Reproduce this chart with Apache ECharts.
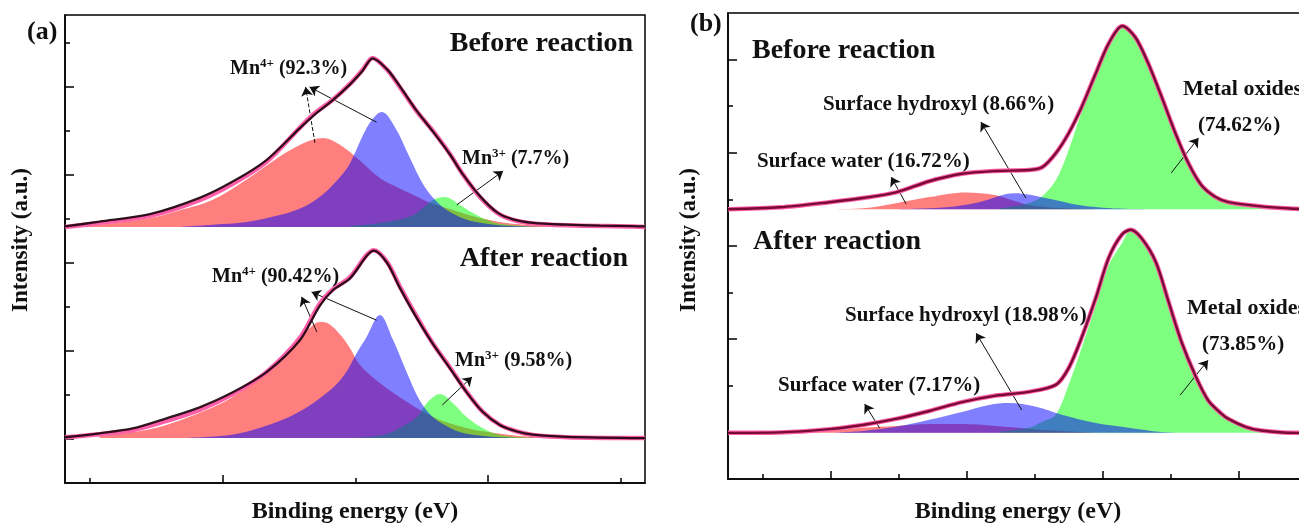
<!DOCTYPE html>
<html><head><meta charset="utf-8">
<script src="https://cdn.jsdelivr.net/npm/echarts@6/dist/echarts.min.js"></script>
<style>html,body{margin:0;padding:0;background:#fff;overflow:hidden}#c{width:1320px;height:524px}</style>
</head><body><div id="c"></div>
<script>
// ---------- Panel (a): Mn 2p, binding energy (eV) vs intensity above each spectrum's baseline ----------
const aBeforeFit = [[647.38,0],[646.86,0.09],[646.10,0.25],[645.35,0.61],[644.85,0.98],[644.34,1.48],[643.84,2.25],[643.64,2.55],[643.34,2.89],[643.08,3.25],[642.89,3.57],[642.74,3.84],[642.52,3.57],[642.33,3.18],[642.07,2.62],[641.83,2.18],[641.57,1.65],[641.38,1.2],[641.12,0.68],[640.86,0.32],[640.62,0.16],[640.32,0.08],[639.81,0.04],[638.81,0.01],[638.63,0]];
const aBeforeData = [[647.38,0.01],[646.86,0.12],[646.10,0.29],[645.35,0.66],[644.85,1.03],[644.34,1.52],[643.84,2.24],[643.64,2.52],[643.34,2.88],[643.08,3.24],[642.89,3.55],[642.74,3.83],[642.52,3.58],[642.33,3.2],[642.07,2.63],[641.83,2.17],[641.57,1.64],[641.38,1.2],[641.12,0.7],[640.86,0.33],[640.62,0.17],[640.32,0.09],[639.81,0.05],[639.31,0.03],[638.81,0.02],[638.63,0.01]];
const aBeforeRed = [[647.38,0],[646.86,0.05],[646.10,0.2],[645.65,0.38],[645.15,0.62],[644.64,1.08],[644.14,1.6],[643.84,1.86],[643.64,1.98],[643.49,2.02],[643.34,1.96],[643.13,1.76],[642.89,1.45],[642.63,1.11],[642.37,0.9],[642.13,0.73],[641.88,0.55],[641.62,0.43],[641.12,0.2],[640.62,0.07],[639.91,0.01],[639.31,0]];
const aBeforeBlue = [[645.65,0],[645.15,0.05],[644.64,0.11],[644.14,0.27],[643.88,0.39],[643.64,0.57],[643.38,0.89],[643.13,1.32],[643.04,1.57],[642.83,2.25],[642.68,2.55],[642.60,2.61],[642.40,2.26],[642.18,1.58],[641.95,0.9],[641.72,0.5],[641.50,0.28],[641.27,0.14],[640.82,0.04],[640.22,0]];
const aBeforeGreen = [[643.08,0.02],[642.63,0.09],[642.18,0.23],[641.98,0.43],[641.83,0.61],[641.65,0.68],[641.42,0.5],[641.23,0.32],[641.02,0.16],[640.82,0.07],[640.37,0.01],[639.91,0]];

const aAfterFit = [[647.38,0.02],[646.86,0.09],[646.36,0.18],[645.85,0.39],[645.35,0.64],[644.85,1.0],[644.34,1.5],[643.84,2.27],[643.54,3.05],[643.34,3.38],[643.08,3.66],[642.83,4.16],[642.72,4.27],[642.52,4.0],[642.33,3.45],[642.07,2.75],[641.83,2.15],[641.57,1.6],[641.32,1.05],[641.08,0.6],[640.82,0.3],[640.56,0.15],[640.32,0.07],[639.81,0.02],[638.63,0]];
const aAfterData = [[647.38,0.02],[646.86,0.11],[646.36,0.22],[645.85,0.45],[645.35,0.7],[644.85,1.04],[644.34,1.5],[643.84,2.22],[643.54,3.0],[643.34,3.36],[643.08,3.63],[642.83,4.14],[642.72,4.26],[642.52,3.98],[642.33,3.42],[642.07,2.72],[641.83,2.14],[641.57,1.58],[641.32,1.04],[641.08,0.6],[640.82,0.3],[640.56,0.15],[640.32,0.08],[639.81,0.03],[638.63,0]];
const aAfterRed = [[646.86,0.04],[646.10,0.2],[645.65,0.4],[645.15,0.7],[644.89,0.9],[644.64,1.15],[644.40,1.4],[644.14,1.8],[643.88,2.2],[643.69,2.5],[643.54,2.64],[643.40,2.6],[643.21,2.32],[643.08,2.04],[642.93,1.66],[642.63,1.25],[642.33,0.93],[641.83,0.48],[641.32,0.23],[640.82,0.1],[640.22,0.02],[639.31,0]];
const aAfterBlue = [[645.65,0],[644.89,0.07],[644.40,0.25],[643.88,0.57],[643.38,1.09],[643.16,1.45],[642.98,1.93],[642.83,2.3],[642.63,2.8],[642.43,2.23],[642.22,1.48],[642.03,0.86],[641.83,0.48],[641.57,0.23],[641.32,0.1],[640.82,0.02],[640.37,0]];
const aAfterGreen = [[643.08,0],[642.58,0.07],[642.33,0.23],[642.07,0.48],[641.92,0.8],[641.72,1.0],[641.53,0.8],[641.32,0.48],[641.08,0.23],[640.82,0.07],[640.37,0.01],[639.91,0]];

// ---------- Panel (b): O 1s ----------
const bBeforeFit = [[535.51,0],[534.75,0.04],[534.02,0.15],[533.53,0.24],[533.04,0.36],[532.55,0.6],[532.07,0.76],[531.57,0.82],[531.09,0.84],[530.89,0.9],[530.69,1.2],[530.50,1.63],[530.31,2.19],[530.10,2.92],[529.91,3.56],[529.71,3.93],[529.52,3.69],[529.33,3.13],[529.13,2.4],[528.93,1.63],[528.74,0.99],[528.55,0.52],[528.34,0.26],[528.15,0.15],[527.67,0.06],[527.17,0.01],[526.98,0]];
const bBeforeRed = [[534.02,0],[533.53,0.02],[533.04,0.13],[532.55,0.26],[532.01,0.36],[531.57,0.3],[531.33,0.19],[531.09,0.09],[530.60,0.02],[530.06,0]];
const bBeforeBlue = [[532.99,0],[532.30,0.04],[531.82,0.15],[531.30,0.34],[530.84,0.24],[530.35,0.09],[529.87,0.02],[529.33,0]];
const bBeforeGreen = [[531.52,0.02],[531.09,0.13],[530.89,0.28],[530.69,0.62],[530.50,1.27],[530.31,2.09],[530.10,2.88],[529.91,3.56],[529.71,3.93],[529.52,3.69],[529.33,3.13],[529.13,2.4],[528.93,1.63],[528.74,0.99],[528.55,0.52],[528.34,0.26],[528.15,0.13],[527.67,0.04],[527.17,0],[526.98,0]];

const bAfterFit = [[535.51,0],[534.75,0.01],[534.02,0.08],[533.53,0.17],[533.04,0.3],[532.55,0.47],[532.07,0.66],[531.57,0.8],[531.09,0.88],[530.69,1.03],[530.50,1.39],[530.31,2.04],[530.10,2.9],[529.91,3.76],[529.72,4.25],[529.59,4.36],[529.43,4.18],[529.22,3.67],[529.03,2.81],[528.84,1.95],[528.64,1.24],[528.45,0.7],[528.26,0.42],[528.15,0.3],[527.90,0.13],[527.67,0.05],[527.17,0],[526.98,0]];
const bAfterRed = [[534.75,0],[534.02,0.04],[533.53,0.11],[533.04,0.15],[532.55,0.19],[532.07,0.19],[531.57,0.15],[531.09,0.09],[530.60,0.04],[530.06,0]];
const bAfterBlue = [[534.02,0],[533.53,0.04],[533.04,0.13],[532.55,0.28],[532.07,0.45],[531.67,0.6],[531.38,0.64],[530.98,0.56],[530.60,0.39],[530.10,0.21],[529.62,0.11],[529.13,0.02],[528.59,0]];
const bAfterGreen = [[531.52,0.03],[531.09,0.11],[530.89,0.24],[530.69,0.39],[530.50,1.03],[530.31,1.82],[530.10,2.75],[529.91,3.6],[529.72,4.06],[529.59,4.33],[529.43,4.18],[529.22,3.67],[529.03,2.81],[528.84,1.95],[528.64,1.24],[528.45,0.7],[528.26,0.42],[528.15,0.3],[527.90,0.13],[527.67,0.05],[527.17,0],[526.98,0]];

// vertical offsets of the stacked spectra
const offsets = { aBefore: 5.82, aAfter: 1.02, bBefore: 5.79, bAfter: 0.99 };

// axis ticks
const aXMajor = [645, 641], aXMinor = [647, 643, 639];
const bXMajor = [534, 532, 530, 528], bXMinor = [535, 533, 531, 529];
const aYMajor = [1, 3, 5, 7, 9], aYMinor = [2, 4, 6, 8, 10];
const bYMajor = [1, 3, 5, 7, 9], bYMinor = [2, 4, 6, 8];

// annotation arrows: [x1, y1, x2, y2, dashed]
const aArrows = [[643.61,7.73,643.75,9.0,true],[642.68,8.20,643.69,9.0,false],[641.47,6.32,640.77,7.09,false],
                 [643.58,3.43,643.81,4.23,false],[642.68,3.70,643.66,4.34,false],[641.69,1.77,641.24,2.41,false]];
const bArrows = [[532.89,5.90,533.11,6.48,false],[531.13,6.03,531.79,7.66,false],[528.99,6.57,528.59,7.32,false],
                 [533.28,1.09,533.50,1.61,false],[531.19,1.48,531.86,3.13,false],[528.86,1.80,528.45,2.55,false]];

const FONT = "'Liberation Serif','Times New Roman',serif";
const RED = 'rgba(255,0,0,0.5)', GREEN = 'rgba(0,255,0,0.5)', BLUE = 'rgba(0,0,255,0.5)';

function shift(arr, off) { return arr.map(p => [p[0], p[1] + off]); }
function area(arr, off, color, gi) {
  return { type: 'line', xAxisIndex: gi * 2, yAxisIndex: gi * 2, data: shift(arr, off), symbol: 'none',
    smooth: 0.35, lineStyle: { opacity: 0, width: 0 }, areaStyle: { color: color, opacity: 1, origin: off }, silent: true, z: 2 };
}
function line(arr, off, color, width, gi, z, extra) {
  return Object.assign({ type: 'line', xAxisIndex: gi * 2, yAxisIndex: gi * 2, data: shift(arr, off), symbol: 'none',
    smooth: 0.3, lineStyle: { color: color, width: width }, silent: true, z: z }, extra || {});
}
function arrows(list) {
  return { silent: true, symbol: ['none', 'arrow'], symbolSize: 9, label: { show: false },
    lineStyle: { color: '#111', width: 1, type: 'solid' }, emphasis: { disabled: true },
    data: list.map(a => [{ coord: [a[0], a[1]], lineStyle: { type: a[4] ? 'dashed' : 'solid', color: '#111', width: 1 } }, { coord: [a[2], a[3]] }]) };
}
function xAxes(gi, min, max, major, minor) {
  const base = { type: 'value', gridIndex: gi, min: min, max: max, inverse: true, position: 'bottom',
    splitLine: { show: false }, axisLabel: { show: false } };
  return [
    Object.assign({}, base, { axisLine: { lineStyle: { color: '#000', width: 1.5 } },
      axisTick: { inside: true, length: 8, customValues: major, lineStyle: { color: '#000', width: 1.5 } } }),
    Object.assign({}, base, { axisLine: { show: false },
      axisTick: { inside: true, length: 5, customValues: minor, lineStyle: { color: '#000', width: 1.5 } } })
  ];
}
function yAxes(gi, max, major, minor) {
  const base = { type: 'value', gridIndex: gi, min: 0, max: max, position: 'left',
    splitLine: { show: false }, axisLabel: { show: false } };
  return [
    Object.assign({}, base, { axisLine: { lineStyle: { color: '#000', width: 1.5 } },
      axisTick: { inside: true, length: 9, customValues: major, lineStyle: { color: '#000', width: 1.5 } } }),
    Object.assign({}, base, { axisLine: { show: false },
      axisTick: { inside: true, length: 5, customValues: minor, lineStyle: { color: '#000', width: 1.5 } } })
  ];
}
function txt(x, y, text, size, align, extra) {
  return Object.assign({ type: 'text', x: x, y: y, z: 100, silent: true,
    style: { text: text, fontFamily: FONT, fontWeight: 'bold', fontSize: size, fill: '#111',
      textAlign: align || 'left', textVerticalAlign: 'middle' } }, extra || {});
}
function ion(x, y, base, sup, rest) {
  return { type: 'text', x: x, y: y, z: 100, silent: true,
    style: { text: '{n|' + base + '}{s|' + sup + '}{n|' + rest + '}', textAlign: 'left', textVerticalAlign: 'middle',
      rich: { n: { fontFamily: FONT, fontWeight: 'bold', fontSize: 20, lineHeight: 24, fill: '#111', color: '#111' },
              s: { fontFamily: FONT, fontWeight: 'bold', fontSize: 13, lineHeight: 13, verticalAlign: 'top', fill: '#111', color: '#111' } } } };
}

const PINK = '#ff5fa8';
const series = [
  // (a) before
  area(aBeforeRed, offsets.aBefore, RED, 0), area(aBeforeGreen, offsets.aBefore, GREEN, 0), area(aBeforeBlue, offsets.aBefore, BLUE, 0),
  line(aBeforeFit, offsets.aBefore, PINK, 4.5, 0, 5),
  line(aBeforeData, offsets.aBefore, 'rgba(20,0,8,0.88)', 2.3, 0, 6),
  // (a) after
  area(aAfterRed, offsets.aAfter, RED, 0), area(aAfterGreen, offsets.aAfter, GREEN, 0), area(aAfterBlue, offsets.aAfter, BLUE, 0),
  line(aAfterFit, offsets.aAfter, PINK, 4.5, 0, 5),
  line(aAfterData, offsets.aAfter, 'rgba(20,0,8,0.88)', 2.3, 0, 6, { markLine: arrows(aArrows) }),
  // (b) before
  area(bBeforeRed, offsets.bBefore, RED, 1), area(bBeforeGreen, offsets.bBefore, GREEN, 1), area(bBeforeBlue, offsets.bBefore, BLUE, 1),
  line(bBeforeFit, offsets.bBefore, PINK, 4.5, 1, 5),
  line(bBeforeFit, offsets.bBefore, '#7a0a36', 2.4, 1, 6),
  // (b) after
  area(bAfterRed, offsets.bAfter, RED, 1), area(bAfterGreen, offsets.bAfter, GREEN, 1), area(bAfterBlue, offsets.bAfter, BLUE, 1),
  line(bAfterFit, offsets.bAfter, PINK, 4.5, 1, 5),
  line(bAfterFit, offsets.bAfter, '#7a0a36', 2.4, 1, 6, { markLine: arrows(bArrows) })
];

const chart = echarts.init(document.getElementById('c'), null, { renderer: 'canvas' });
chart.setOption({
  animation: false,
  backgroundColor: '#fff',
  grid: [
    { left: 65, top: 15, width: 580, height: 468, outerBoundsMode: 'none', containLabel: false, show: true, borderColor: '#000', borderWidth: 1.5, backgroundColor: 'transparent' },
    { left: 728, top: 13, width: 580, height: 466, outerBoundsMode: 'none', containLabel: false, show: true, borderColor: '#000', borderWidth: 1.5, backgroundColor: 'transparent' }
  ],
  xAxis: [].concat(xAxes(0, 638.63, 647.38, aXMajor, aXMinor), xAxes(1, 526.98, 535.51, bXMajor, bXMinor)),
  yAxis: [].concat(yAxes(0, 10.636, aYMajor, aYMinor), yAxes(1, 10, bYMajor, bYMinor)),
  series: series,
  graphic: [
    txt(27, 32, '(a)', 26, 'left'),
    txt(690, 24, '(b)', 26, 'left'),
    txt(355, 512, 'Binding energy (eV)', 24, 'center'),
    txt(1018, 512, 'Binding energy (eV)', 24, 'center'),
    txt(21, 240, 'Intensity (a.u.)', 23, 'center', { rotation: Math.PI / 2 }),
    txt(689, 240, 'Intensity (a.u.)', 23, 'center', { rotation: Math.PI / 2 }),
    txt(633, 44, 'Before reaction', 28, 'right'),
    txt(628, 259, 'After reaction', 28, 'right'),
    txt(752, 51, 'Before reaction', 28, 'left'),
    txt(753, 242, 'After reaction', 28, 'left'),
    ion(230, 69, 'Mn', '4+', ' (92.3%)'),
    ion(462, 159, 'Mn', '3+', ' (7.7%)'),
    ion(212, 277, 'Mn', '4+', ' (90.42%)'),
    ion(455, 361, 'Mn', '3+', ' (9.58%)'),
    txt(823, 105, 'Surface hydroxyl (8.66%)', 21, 'left'),
    txt(757, 162, 'Surface water (16.72%)', 21, 'left'),
    txt(1183, 89, 'Metal oxides', 22, 'left'),
    txt(1198, 126, '(74.62%)', 21, 'left'),
    txt(845, 316, 'Surface hydroxyl (18.98%)', 21, 'left'),
    txt(778, 386, 'Surface water (7.17%)', 21, 'left'),
    txt(1187, 308, 'Metal oxides', 22, 'left'),
    txt(1202, 345, '(73.85%)', 21, 'left')
  ]
});
</script></body></html>
